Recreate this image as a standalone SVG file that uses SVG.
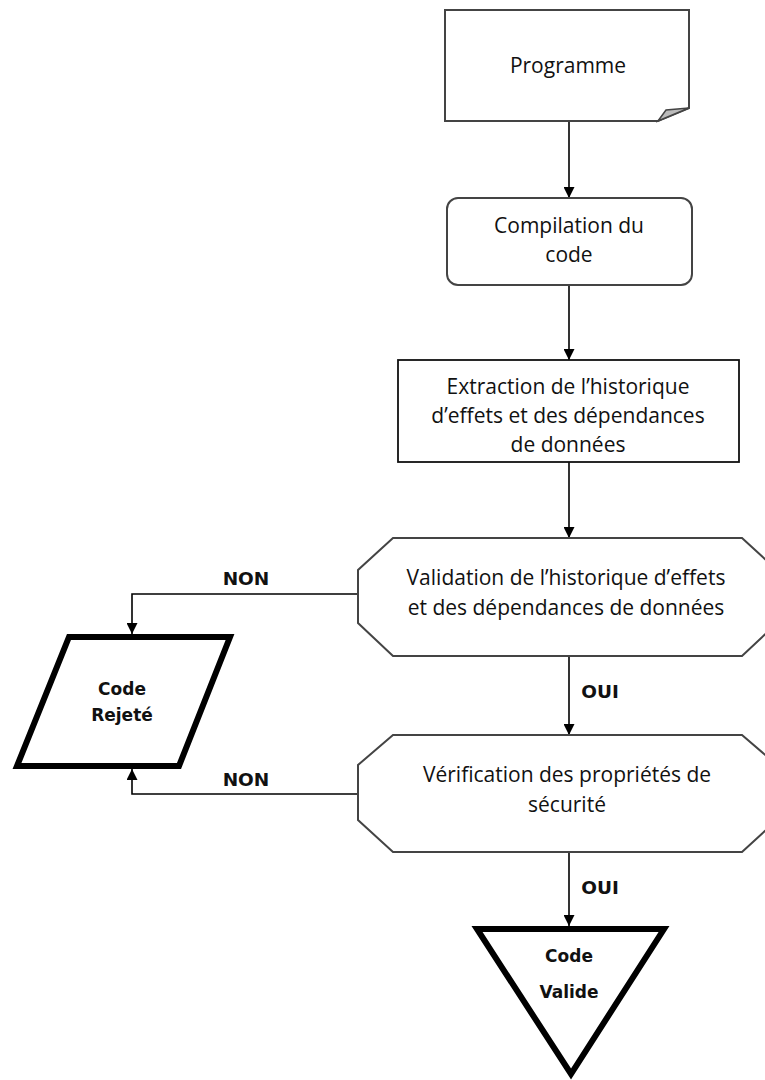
<svg xmlns="http://www.w3.org/2000/svg" width="765" height="1080" viewBox="0 0 765 1080">
<style>
.t{font-family:"Open Sans","DejaVu Sans",sans-serif;font-size:21px;fill:#111;text-anchor:middle}
.b{font-family:"DejaVu Sans","Liberation Sans",sans-serif;font-weight:bold;font-size:17px;fill:#111;text-anchor:middle}
.l{font-size:18.5px}
.n{fill:#fff;stroke:#444;stroke-width:2}
.k{fill:#fff;stroke:#000;stroke-width:6;stroke-linejoin:miter}
.c{fill:none;stroke:#000;stroke-width:1.6}
</style>
<defs>
<marker id="ar" viewBox="0 0 10 10" refX="10" refY="5" markerWidth="11" markerHeight="11" markerUnits="userSpaceOnUse" orient="auto">
<path d="M0,0 L10,5 L0,10 Z" fill="#000"/>
</marker>
</defs>
<rect width="765" height="1080" fill="#fff"/>
<g id="connectors">
<line class="c" x1="569" y1="121" x2="569" y2="198" marker-end="url(#ar)"/>
<line class="c" x1="569" y1="285" x2="569" y2="360" marker-end="url(#ar)"/>
<line class="c" x1="569" y1="462" x2="569" y2="538" marker-end="url(#ar)"/>
<line class="c" x1="569" y1="656" x2="569" y2="735" marker-end="url(#ar)"/>
<line class="c" x1="569" y1="852" x2="569" y2="926" marker-end="url(#ar)"/>
<polyline class="c" points="358,594 132,594 132,634" marker-end="url(#ar)"/>
<polyline class="c" points="358,794 132,794 132,769" marker-end="url(#ar)"/>
<text class="b l" x="246" y="585">NON</text>
<text class="b l" x="246" y="786">NON</text>
<text class="b l" x="600" y="698">OUI</text>
<text class="b l" x="600" y="894">OUI</text>
</g>
<g id="programme">
<path class="n" d="M445,10 H689 V108 L658,121 H445 Z"/>
<path d="M658,121 L666,110 L689,108 Z" fill="#bbb" stroke="#444" stroke-width="1.5"/>
<text class="t" x="568" y="73">Programme</text>
</g>
<g id="compilation">
<rect class="n" x="447" y="198" width="245" height="87" rx="11"/>
<text class="t" x="569" y="233">Compilation du</text>
<text class="t" x="569" y="262">code</text>
</g>
<g id="extraction">
<rect x="398" y="360" width="341" height="102" fill="#fff" stroke="#111" stroke-width="1.8"/>
<text class="t" x="568" y="394">Extraction de l’historique</text>
<text class="t" x="568" y="423">d’effets et des dépendances</text>
<text class="t" x="568" y="452">de données</text>
</g>
<g id="validation">
<path class="n" d="M393,538 H742 L777,570 V623 L742,656 H393 L358,623 V570 Z"/>
<text class="t" x="566" y="585">Validation de l’historique d’effets</text>
<text class="t" x="566" y="615">et des dépendances de données</text>
</g>
<g id="verification">
<path class="n" d="M393,735 H742 L777,765 V820 L742,852 H393 L358,820 V765 Z"/>
<text class="t" x="567" y="782">Vérification des propriétés de</text>
<text class="t" x="567" y="812">sécurité</text>
</g>
<g id="rejete">
<path class="k" d="M69,637 H230 L179,766 H17 Z"/>
<text class="b" x="122" y="695">Code</text>
<text class="b" x="122" y="721">Rejeté</text>
</g>
<g id="valide">
<path class="k" d="M477,929 H664 L571,1074 Z"/>
<text class="b" x="569" y="962">Code</text>
<text class="b" x="569" y="998">Valide</text>
</g>
</svg>
